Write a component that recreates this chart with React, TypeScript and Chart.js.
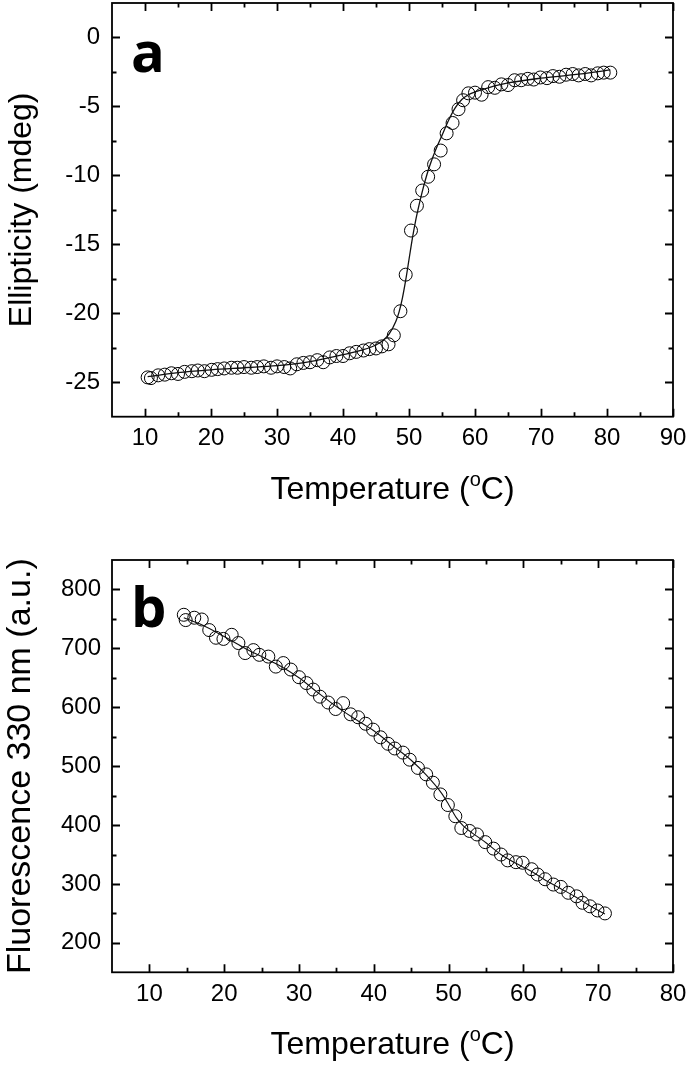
import React, { useEffect, useRef } from "react";
import { Chart, registerables } from "chart.js";

Chart.register(...registerables);

// ---------- Panel a: CD ellipticity ----------
const tempA = [
  10.4, 10.9, 12.0, 13.0, 14.0, 15.0, 16.0, 17.1, 18.0, 19.0, 20.1, 21.0, 22.0, 23.1, 24.0, 25.0,
  26.1, 27.0, 28.0, 29.1, 30.0, 31.1, 32.0, 33.0, 34.0, 35.0, 36.1, 37.0, 38.0, 39.0, 40.0, 41.0,
  42.0, 43.1, 44.0, 45.0, 45.9, 46.9, 47.7, 48.7, 49.5, 50.3, 51.2, 52.0, 52.9, 53.8, 54.8, 55.7,
  56.6, 57.5, 58.2, 59.0, 60.0, 61.0, 62.0, 63.0, 64.0, 65.0, 66.0, 67.0, 68.0, 68.9, 69.9, 70.9,
  71.8, 72.8, 73.8, 74.8, 75.7, 76.7, 77.6, 78.6, 79.5, 80.5,
];
const ellipA = [
  -24.65, -24.7, -24.5, -24.45, -24.35, -24.4, -24.25, -24.2, -24.15, -24.2, -24.1, -24.05, -24.0, -23.95, -23.95, -23.9,
  -23.95, -23.9, -23.85, -23.95, -23.85, -23.9, -24.0, -23.7, -23.6, -23.55, -23.4, -23.55, -23.2, -23.1, -23.1, -22.9,
  -22.8, -22.7, -22.6, -22.55, -22.4, -22.25, -21.6, -19.85, -17.2, -14.0, -12.2, -11.1, -10.1, -9.2, -8.2, -6.95,
  -6.2, -5.2, -4.55, -4.05, -4.0, -4.15, -3.6, -3.65, -3.4, -3.45, -3.1, -3.1, -3.0, -3.05, -2.9, -2.95,
  -2.8, -2.85, -2.7, -2.65, -2.75, -2.65, -2.75, -2.6, -2.55, -2.55,
];
const fitTempA = [
  10.4, 15, 20, 25, 30, 35, 40, 43, 45, 46, 47, 48, 48.5, 49, 49.5, 50, 50.5, 51, 51.5, 52, 52.5, 53,
  54, 55, 56, 57, 58, 59, 60, 62, 65, 70, 75, 80.5,
];
const fitEllipA = [
  -24.6, -24.3, -24.1, -23.95, -23.8, -23.5, -23.0, -22.65, -22.3, -22.0, -21.5, -20.6, -19.9, -18.9, -17.6, -16.1,
  -14.6, -13.3, -12.2, -11.2, -10.3, -9.5, -8.2, -7.1, -6.0, -5.1, -4.5, -4.15, -3.95, -3.65, -3.3, -2.95, -2.7, -2.35,
];
const xTicksA = [10, 20, 30, 40, 50, 60, 70, 80, 90];
const yTicksA = [-25, -20, -15, -10, -5, 0];

// ---------- Panel b: Trp fluorescence ----------
const tempB = [
  14.6, 14.85, 16.0, 17.0, 18.0, 18.9, 19.9, 21.0, 21.9, 22.8, 23.9, 24.7, 25.9, 26.9, 27.9, 28.9,
  30.0, 31.0, 31.9, 32.8, 33.9, 34.9, 35.9, 36.9, 37.9, 38.9, 39.9, 40.9, 41.9, 42.8, 43.9, 44.8,
  45.9, 47.0, 47.9, 48.9, 49.9, 50.9, 51.7, 52.8, 53.8, 54.9, 56.0, 57.0, 57.9, 59.0, 59.9, 61.1,
  61.9, 62.9, 64.0, 65.0, 66.0, 67.1, 67.9, 68.9, 69.9, 70.9,
];
const fluorB = [
  757, 748, 752, 749, 731, 718, 716, 723, 709, 692, 697, 689, 686, 669, 675, 664,
  651, 641, 630, 618, 608, 597, 607, 588, 583, 572, 562, 549, 538, 530, 523, 511,
  497, 486, 472, 452, 434, 415, 395, 390, 384, 371, 360, 350, 340, 337, 336, 325,
  316, 308, 299, 295, 285, 279, 268, 262, 255, 250,
];
const fitTempB = [
  14.6, 17, 20, 22.5, 25, 27.5, 30, 32.5, 35, 37.5, 40, 42.5, 45, 47, 49, 50, 51, 52, 53, 55, 57, 59, 61,
  63, 65, 67, 69, 70.9,
];
const fitFluorB = [
  752, 740, 720, 702, 686, 670, 650, 625, 601, 580, 560, 535, 510, 485, 455, 435, 413, 398, 388, 370, 350,
  335, 322, 306, 292, 278, 262, 249,
];
const xTicksB = [10, 20, 30, 40, 50, 60, 70, 80];
const yTicksB = [200, 300, 400, 500, 600, 700, 800];

const SANS = "'Liberation Sans', Arial, sans-serif";

type PanelCfg = {
  temps: number[];
  vals: number[];
  fitT: number[];
  fitV: number[];
  xMin: number;
  xMax: number;
  yMin: number;
  yMax: number;
  xTicks: number[];
  yTicks: number[];
  xMinorStep: number;
  yMinorStep: number;
  yTitle: string;
  yTitleSize: number;
  yTitlePad: number;
  letter: string;
  padTop: number;
  plotBottom: number; // canvas px
  yTickPad: number;
  xTickPad: number;
  titleBaselineGap: number;
  lineWidth: number;
};

const W = 691;
const H = 534;

function minorValues(ticks: number[], step: number, lo: number, hi: number) {
  const out: number[] = [];
  const cand = new Set<number>();
  ticks.forEach((t) => {
    cand.add(t - step);
    cand.add(t + step);
  });
  cand.forEach((v) => {
    if (v > lo + 1e-9 && v < hi - 1e-9 && !ticks.some((t) => Math.abs(t - v) < 1e-9)) out.push(v);
  });
  return out;
}

const framePlugin = {
  id: "frameTicks",
  afterDraw(chart: any, _args: any, opts: any) {
    const { ctx, chartArea } = chart;
    const { left, right, top, bottom } = chartArea;
    const xs = chart.scales.x;
    const ys = chart.scales.y;
    ctx.save();
    ctx.strokeStyle = "#000";
    ctx.lineWidth = 1.8;
    ctx.strokeRect(left, top, right - left, bottom - top);
    const major = 8;
    const minor = 4.5;
    const xMaj: number[] = opts.xTicks;
    const yMaj: number[] = opts.yTicks;
    const xMin = minorValues(xMaj, opts.xMinorStep, xs.min, xs.max);
    const yMin = minorValues(yMaj, opts.yMinorStep, ys.min, ys.max);
    ctx.beginPath();
    const xt = (v: number, len: number) => {
      const p = Math.round(xs.getPixelForValue(v)) + 0.5;
      ctx.moveTo(p, bottom);
      ctx.lineTo(p, bottom - len);
      ctx.moveTo(p, top);
      ctx.lineTo(p, top + len);
    };
    const yt = (v: number, len: number) => {
      const p = Math.round(ys.getPixelForValue(v)) + 0.5;
      ctx.moveTo(left, p);
      ctx.lineTo(left + len, p);
      ctx.moveTo(right, p);
      ctx.lineTo(right - len, p);
    };
    xMaj.forEach((v) => xt(v, major));
    xMin.forEach((v) => xt(v, minor));
    yMaj.forEach((v) => yt(v, major));
    yMin.forEach((v) => yt(v, minor));
    ctx.stroke();

    // panel letter
    ctx.fillStyle = "#000";
    ctx.font = "bold 56px 'Open Sans', 'DejaVu Sans', sans-serif";
    ctx.textAlign = "left";
    ctx.textBaseline = "alphabetic";
    ctx.fillText(opts.letter, 131, top + opts.letterBaseline);

    // x-axis title with superscript o
    const cx = (left + right) / 2;
    const by = bottom + opts.titleBaselineGap;
    const big = "32px " + SANS;
    const small = "20px " + SANS;
    ctx.font = big;
    const p1 = "Temperature (";
    const p3 = "C)";
    const w1 = ctx.measureText(p1).width;
    const w3 = ctx.measureText(p3).width;
    ctx.font = small;
    const w2 = ctx.measureText("o").width;
    let x0 = cx - (w1 + w2 + w3) / 2;
    ctx.font = big;
    ctx.fillText(p1, x0, by);
    x0 += w1;
    ctx.font = small;
    ctx.fillText("o", x0, by - 13);
    x0 += w2;
    ctx.font = big;
    ctx.fillText(p3, x0, by);
    ctx.restore();
  },
};

function Panel({ cfg }: { cfg: PanelCfg }) {
  const ref = useRef<HTMLCanvasElement | null>(null);
  useEffect(() => {
    if (!ref.current) return;
    const points = cfg.temps.map((t, i) => ({ x: t, y: cfg.vals[i] }));
    const fit = cfg.fitT.map((t, i) => ({ x: t, y: cfg.fitV[i] }));
    const chart = new Chart(ref.current, {
      type: "line",
      data: {
        datasets: [
          {
            label: "fit",
            data: fit,
            borderColor: "#111",
            borderWidth: cfg.lineWidth,
            pointRadius: 0,
            fill: false,
            cubicInterpolationMode: "monotone",
          },
          {
            label: "data",
            data: points,
            showLine: false,
            pointStyle: "circle",
            pointRadius: 6.5,
            pointBorderWidth: 1,
            pointBorderColor: "#000",
            pointBackgroundColor: "rgba(255,255,255,0)",
          },
        ],
      },
      options: {
        responsive: false,
        animation: false,
        layout: { autoPadding: false, padding: { top: cfg.padTop, right: 18, left: 0, bottom: 0 } },
        plugins: {
          legend: { display: false },
          tooltip: { enabled: false },
          frameTicks: {
            xTicks: cfg.xTicks,
            yTicks: cfg.yTicks,
            xMinorStep: cfg.xMinorStep,
            yMinorStep: cfg.yMinorStep,
            letter: cfg.letter,
            letterBaseline: cfg.letter === "a" ? 69 : 67,
            titleBaselineGap: cfg.titleBaselineGap,
          },
        } as any,
        scales: {
          x: {
            type: "linear",
            min: cfg.xMin,
            max: cfg.xMax,
            afterBuildTicks: (s: any) => {
              s.ticks = cfg.xTicks.map((v) => ({ value: v }));
            },
            afterFit: (s: any) => {
              s.height = H - cfg.plotBottom;
              s.paddingLeft = 0;
              s.paddingRight = 0;
            },
            grid: { display: false, drawTicks: false },
            border: { display: false },
            ticks: {
              color: "#000",
              font: { family: SANS, size: 24 },
              padding: cfg.xTickPad,
              maxRotation: 0,
              autoSkip: false,
            },
            title: { display: false },
          },
          y: {
            type: "linear",
            min: cfg.yMin,
            max: cfg.yMax,
            afterBuildTicks: (s: any) => {
              s.ticks = cfg.yTicks.map((v) => ({ value: v }));
            },
            afterFit: (s: any) => {
              s.width = 112;
              s.paddingTop = 0;
              s.paddingBottom = 0;
            },
            grid: { display: false, drawTicks: false },
            border: { display: false },
            ticks: {
              color: "#000",
              font: { family: SANS, size: 24 },
              padding: cfg.yTickPad,
              autoSkip: false,
            },
            title: {
              display: true,
              text: cfg.yTitle,
              color: "#000",
              font: { family: SANS, size: cfg.yTitleSize, weight: "normal" },
              padding: { top: cfg.yTitlePad, bottom: 0 },
            },
          },
        },
      },
      plugins: [framePlugin],
    } as any);
    return () => chart.destroy();
  }, [cfg]);
  return <canvas ref={ref} width={W} height={H} style={{ display: "block", width: W, height: H }} />;
}

const cfgA: PanelCfg = {
  temps: tempA,
  vals: ellipA,
  fitT: fitTempA,
  fitV: fitEllipA,
  xMin: 5,
  xMax: 90,
  yMin: -27.5,
  yMax: 2.5,
  xTicks: xTicksA,
  yTicks: yTicksA,
  xMinorStep: 5,
  yMinorStep: 2.5,
  yTitle: "Ellipticity (mdeg)",
  yTitleSize: 32,
  yTitlePad: 3,
  letter: "a",
  padTop: 3,
  plotBottom: 416.7,
  yTickPad: 12,
  xTickPad: 7,
  titleBaselineGap: 82,
  lineWidth: 1.3,
};

const cfgB: PanelCfg = {
  temps: tempB,
  vals: fluorB,
  fitT: fitTempB,
  fitV: fitFluorB,
  xMin: 5,
  xMax: 80,
  yMin: 150,
  yMax: 850,
  xTicks: xTicksB,
  yTicks: yTicksB,
  xMinorStep: 5,
  yMinorStep: 50,
  yTitle: "Fluorescence 330 nm (a.u.)",
  yTitleSize: 34,
  yTitlePad: 0,
  letter: "b",
  padTop: 26,
  plotBottom: 438.3,
  yTickPad: 11,
  xTickPad: 7.5,
  titleBaselineGap: 82,
  lineWidth: 1.1,
};

export default function App() {
  return (
    <div style={{ position: "absolute", left: 0, top: 0, width: W, height: 2 * H, background: "#fff" }}>
      <Panel cfg={cfgA} />
      <Panel cfg={cfgB} />
    </div>
  );
}
